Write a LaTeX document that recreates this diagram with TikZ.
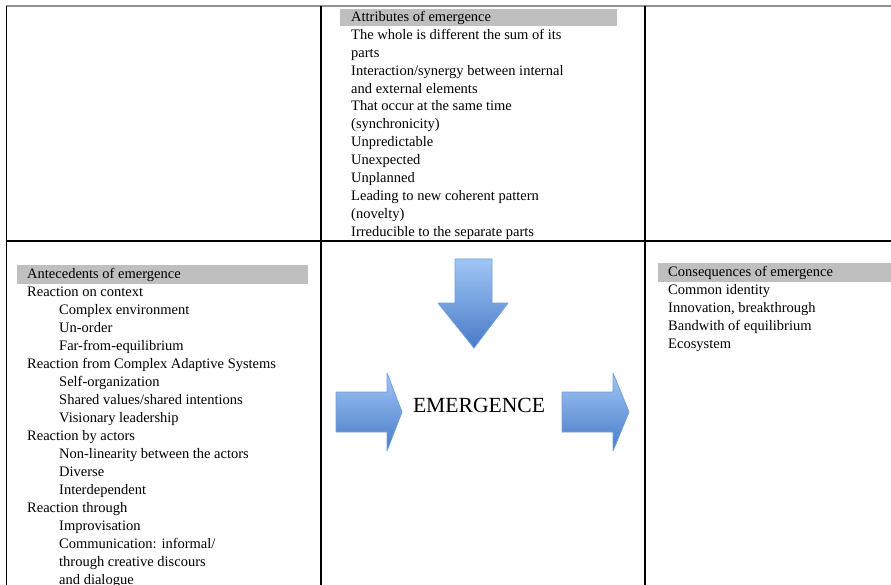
\documentclass[tikz,border=0pt]{standalone}
\usepackage{fontspec}
\setmainfont{Liberation Serif}

\definecolor{hdrgray}{RGB}{191,191,191}
\definecolor{rulegray}{RGB}{145,145,145}
\definecolor{arrowtop}{RGB}{160,198,244}
\definecolor{arrowbot}{RGB}{72,122,200}
\definecolor{arrowline}{RGB}{112,158,222}

\begin{document}
\begin{tikzpicture}[x=1pt, y=-1pt,
    txt/.style={anchor=base west, inner sep=0pt, font=\fontsize{14.5}{18}\selectfont},
    blockarrow/.style={top color=arrowtop, bottom color=arrowbot, draw=arrowline, line width=0.8pt, line join=round}]
    \useasboundingbox (0,0) rectangle (891,585);

    % 罫線を引く
    \draw[rulegray, line width=2pt] (6,6.5) -- (891,6.5);
    \draw[line width=1.3pt] (6.5,6.5) -- (6.5,585);
    \draw[line width=1.3pt] (321,6.5) -- (321,585);
    \draw[line width=1.3pt] (645,6.5) -- (645,585);
    \draw[line width=2.2pt] (6,241) -- (891,241);

    % 見出しの背景
    \fill[hdrgray] (340,9) rectangle (617,26);
    \fill[hdrgray] (17,265) rectangle (308,284);
    \fill[hdrgray] (658,263) rectangle (891,282);

    % 上の欄
    \node[txt] (attr) at (351,21.5) {Attributes of emergence};
    \node[txt] (attr1) at (351,39.4) {The whole is different the sum of its};
    \node[txt] (attr2) at (351,57.3) {parts};
    \node[txt] (attr3) at (351,75.2) {Interaction/synergy between internal};
    \node[txt] (attr4) at (351,93.1) {and external elements};
    \node[txt] (attr5) at (351,111) {That occur at the same time};
    \node[txt] (attr6) at (351,128.9) {(synchronicity)};
    \node[txt] (attr7) at (351,146.8) {Unpredictable};
    \node[txt] (attr8) at (351,164.7) {Unexpected};
    \node[txt] (attr9) at (351,182.6) {Unplanned};
    \node[txt] (attr10) at (351,200.5) {Leading to new coherent pattern};
    \node[txt] (attr11) at (351,218.4) {(novelty)};
    \node[txt] (attr12) at (351,236.3) {Irreducible to the separate parts};

    % 左の欄
    \node[txt] (ante) at (27,278.5) {Antecedents of emergence};
    \node[txt] (ante1) at (27,296.5) {Reaction on context};
    \node[txt] (ante2) at (59,314.5) {Complex environment};
    \node[txt] (ante3) at (59,332.5) {Un-order};
    \node[txt] (ante4) at (59,350.5) {Far-from-equilibrium};
    \node[txt] (ante5) at (27,368.5) {Reaction from Complex Adaptive Systems};
    \node[txt] (ante6) at (59,386.5) {Self-organization};
    \node[txt] (ante7) at (59,404.5) {Shared values/shared intentions};
    \node[txt] (ante8) at (59,422.5) {Visionary leadership};
    \node[txt] (ante9) at (27,440.5) {Reaction by actors};
    \node[txt] (ante10) at (59,458.5) {Non-linearity between the actors};
    \node[txt] (ante11) at (59,476.5) {Diverse};
    \node[txt] (ante12) at (59,494.5) {Interdependent};
    \node[txt] (ante13) at (27,512.5) {Reaction through};
    \node[txt] (ante14) at (59,530.5) {Improvisation};
    \node[txt] (ante15) at (59,548.5) {Communication: informal/};
    \node[txt] (ante16) at (59,566.5) {through creative discours};
    \node[txt] (ante17) at (59,584.5) {and dialogue};

    % 右の欄
    \node[txt] (cons) at (668,276.5) {Consequences of emergence};
    \node[txt] (cons1) at (668,294.5) {Common identity};
    \node[txt] (cons2) at (668,312.5) {Innovation, breakthrough};
    \node[txt] (cons3) at (668,330.5) {Bandwith of equilibrium};
    \node[txt] (cons4) at (668,348.5) {Ecosystem};

    % 矢印
    \draw[blockarrow] (455,259) -- (492,259) -- (492,303) -- (508,303) -- (474,348) -- (438,303) -- (455,303) -- cycle;
    \draw[blockarrow] (336,392) -- (387,392) -- (387,373) -- (402,412) -- (387,451) -- (387,432) -- (336,432) -- cycle;
    \draw[blockarrow] (562,392) -- (613,392) -- (613,373) -- (629,412) -- (613,451) -- (613,432) -- (562,432) -- cycle;

    \node[font=\fontsize{21.6}{26}\selectfont, inner sep=0pt] (emerg) at (479,405) {EMERGENCE};

\end{tikzpicture}
\end{document}
